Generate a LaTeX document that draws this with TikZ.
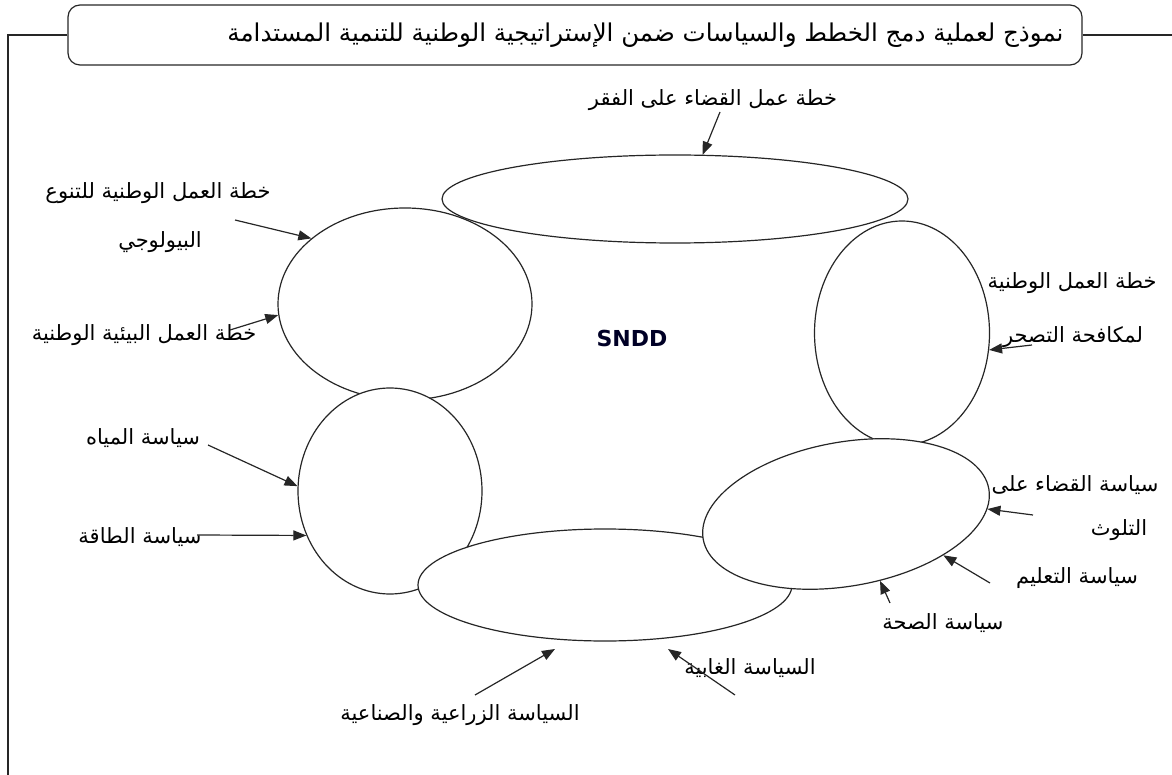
\documentclass[tikz,border=0pt]{standalone}
\usepackage{fontspec}
\setmainfont{DejaVu Sans}
\newfontfamily\arabicfont[Script=Arabic]{DejaVu Sans}
\TeXXeTstate=1
\usetikzlibrary{shapes.geometric,arrows.meta}
\newcommand{\artext}[1]{\arabicfont\beginR #1\endR}
\begin{document}
\begin{tikzpicture}[x=1pt,y=-1pt,
  ov/.style={ellipse, draw=black!85, line width=1.2pt, inner sep=0pt, fill=white},
  lab/.style={font=\arabicfont\fontsize{21}{24}\selectfont, inner sep=0pt, text=black},
  ttl/.style={font=\arabicfont\fontsize{24.5}{28}\selectfont, inner sep=0pt, text=black},
  arr/.style={-{Triangle[length=13pt,width=10pt]}, line width=1.2pt, draw=black!85},
  frameline/.style={line width=1.2pt, draw=black!85}]
\useasboundingbox (0,0) rectangle (1172,775);
% title
\node[draw=black!85, line width=1.2pt, rounded corners=12pt, minimum width=1014pt, minimum height=60pt, inner sep=0pt] (title) at (575,35) {};
\node[ttl, anchor=east] (titletext) at ([xshift=-19pt]title.east) {\artext{نموذج لعملية دمج الخطط والسياسات ضمن الإستراتيجية الوطنية للتنمية المستدامة}};
\coordinate (fl) at (8,35);
\coordinate (fb) at (8,776);
\coordinate (fr) at (1173,35);
\draw[frameline] (title.west) -- (fl) -- (fb);
\draw[frameline] (title.east) -- (fr);
% ellipses
\node[ov, minimum width=254pt, minimum height=192pt] (lc) at (405,304) {};
\node[ov, minimum width=175pt, minimum height=224pt] (re) at (902,333) {};
\node[ov, minimum width=466pt, minimum height=88pt] (te) at (675,199) {};
\node[ov, minimum width=184pt, minimum height=206pt] (ll) at (390,491) {};
\node[ov, minimum width=374pt, minimum height=112pt] (be) at (605,585) {};
\node[ov, minimum width=290pt, minimum height=144pt, rotate=10] (br) at (846,514) {};
\node[font=\bfseries\fontsize{22}{26}\selectfont, text=black!85!blue] (sndd) at (632,338) {SNDD};
% labels
\node[lab] (l1) at (713,100) {\artext{خطة عمل القضاء على الفقر}};
\node[lab] (l2a) at (158,193) {\artext{خطة العمل الوطنية للتنوع}};
\node[lab] (l2b) at (160,242) {\artext{البيولوجي}};
\node[lab] (l3) at (144,335) {\artext{خطة العمل البيئية الوطنية}};
\node[lab] (l4a) at (1072,283) {\artext{خطة العمل الوطنية}};
\node[lab] (l4b) at (1073,337) {\artext{لمكافحة التصحر}};
\node[lab] (l5a) at (1075,485) {\artext{سياسة القضاء على}};
\node[lab] (l5b) at (1119,530) {\artext{التلوث}};
\node[lab] (l6) at (1077,578) {\artext{سياسة التعليم}};
\node[lab] (l7) at (943,623) {\artext{سياسة الصحة}};
\node[lab] (l8) at (750,668) {\artext{السياسة الغابية}};
\node[lab] (l9) at (460,715) {\artext{السياسة الزراعية والصناعية}};
\node[lab] (l10) at (143,438) {\artext{سياسة المياه}};
\node[lab] (l11) at (140,537) {\artext{سياسة الطاقة}};
% arrow tails
\coordinate (a1) at (720,112);
\coordinate (a2) at (235,220);
\coordinate (a3) at (230,330);
\coordinate (a4) at (1032,345);
\coordinate (a5) at (1033,515);
\coordinate (a6) at (990,583);
\coordinate (a7) at (890,603);
\coordinate (a8) at (735,695);
\coordinate (a9) at (475,695);
\coordinate (a10) at (208,445);
\coordinate (a11) at (197,535);
\coordinate (h8) at (668,649);
\coordinate (h9) at (555,649);
% arrows
\draw[arr] (a1) -- (te.58);
\draw[arr] (a2) -- (lc.145);
\draw[arr] (a3) -- (lc.185);
\draw[arr] (a4) -- (re.-11);
\draw[arr] (a5) -- (br.-8);
\draw[arr] (a6) -- (br.-33);
\draw[arr] (a7) -- (br.-73);
\draw[arr] (a8) -- (h8);
\draw[arr] (a9) -- (h9);
\draw[arr] (a10) -- (ll.177);
\draw[arr] (a11) -- (ll.208);
\end{tikzpicture}
\end{document}
